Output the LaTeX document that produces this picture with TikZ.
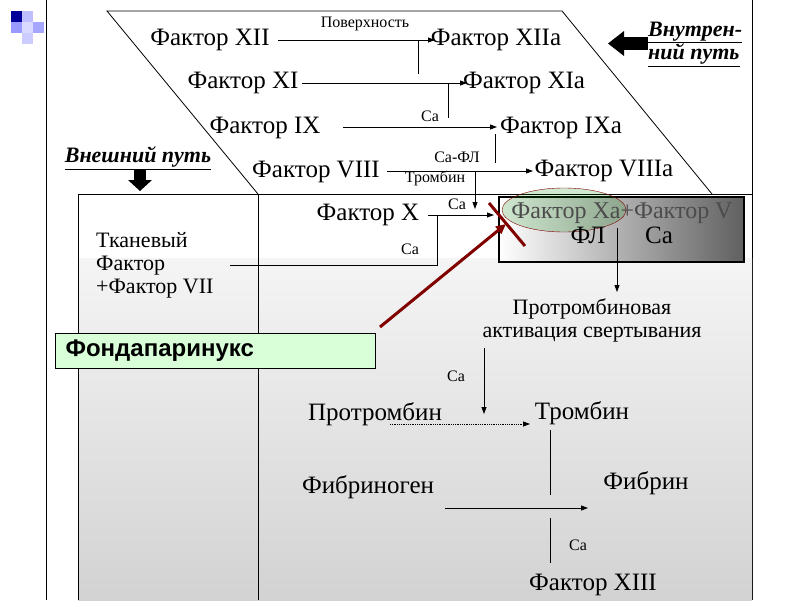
\documentclass[tikz,border=0pt]{standalone}
\usepackage{fontspec}
\setmainfont{Liberation Serif}
\newfontfamily\sansf{Liberation Sans}
\usetikzlibrary{arrows.meta,shapes.geometric}
\begin{document}
\begin{tikzpicture}[x=1pt,y=-1pt,
  big/.style={font=\fontsize{25}{22}\selectfont,inner sep=1pt},
  multi/.style={font=\fontsize{22}{23}\selectfont,inner sep=1pt},
  lab/.style={font=\fontsize{16}{17}\selectfont,inner sep=1pt},
  ln/.style={line width=0.8pt},
  arr/.style={ln,-{Triangle[length=7pt,width=5pt]}},
  hd/.style={font=\fontsize{22}{22}\selectfont\bfseries\itshape}]
\useasboundingbox (0,0) rectangle (800,600);
\fill[white] (0,0) rectangle (800,600);
% logo
\fill[blue!60!black] (11,11) rectangle (22,22);
\fill[blue!25] (22,11) rectangle (33,22);
\fill[blue!40] (11,22) rectangle (22,33);
\fill[blue!15] (22,22) rectangle (33,33);
\fill[blue!35] (33,22) rectangle (44,33);
\fill[blue!20] (22,33) rectangle (33,44);
\draw[line width=1pt] (46,0) -- (46,600);
\draw[line width=1pt] (752,0) -- (752,600);
% background gradient
\shade[top color=gray!8,bottom color=gray!35] (78,258) rectangle (752,600);
% frames
\draw[ln] (258,194) -- (107,11) -- (562,11) -- (712,194);
\draw[ln] (78,600) -- (78,194) -- (752,194);
\draw[ln] (258,194) -- (258,600);
% Extrinsic/intrinsic headers
\node[hd] (ext) at (138,158) {\underline{Внешний путь}};
\fill (134,170) rectangle (146,180);
\fill (128,180) -- (152,180) -- (140,191) -- cycle;
\node[hd,align=left,anchor=west,inner sep=0pt] (int) at (648,44) {\underline{Внутрен-}\\\underline{ний путь}};
\fill (624,37) rectangle (648,50);
\fill (624,31) -- (624,56) -- (608,43.5) -- cycle;
% factors
\node[big] (f12) at (210,40) {Фактор XII};
\node[big] (f12a) at (496,40) {Фактор XIIa};
\node[lab] (pov) at (365,24) {Поверхность};
\draw[arr] (278,40) -- (435,40);
\draw[ln] (418,40) -- (418,74);
\node[big] (f11) at (243,83) {Фактор XI};
\node[big] (f11a) at (524,83) {Фактор XIa};
\draw[arr] (302,83) -- (467,83);
\draw[ln] (448,83) -- (448,118);
\node[lab] (ca1) at (430,116) {Ca};
\node[big] (f9) at (265,128) {Фактор IX};
\node[big] (f9a) at (561,128) {Фактор IXa};
\draw[arr] (343,127) -- (497,127);
\draw[ln] (495,134) -- (495,163);
\node[lab] (caf) at (457,157) {Ca-ФЛ};
\node[big] (f8) at (316,172) {Фактор VIII};
\node[big] (f8a) at (604,171) {Фактор VIIIa};
\draw[arr] (387,171) -- (533,171);
\node[lab] (thr) at (435,178) {Тромбин};
\draw[arr] (475,172) -- (475,209);
\node[lab] (ca2) at (457,204) {Ca};
\node[big] (f10) at (368,215) {Фактор X};
\draw[arr] (428,215) -- (494,215);
\draw[ln] (437,215) -- (437,265) -- (230,265);
\node[lab] (ca3) at (410,249) {Ca};
\node[multi,align=left,anchor=west] (tf) at (95,265) {Тканевый\\Фактор\\+Фактор VII};
% Xa box
\shade[left color=white,right color=gray!75!black,draw=black,line width=1.5pt] (499,197) rectangle (744,262);
\node[ellipse,minimum width=124pt,minimum height=44pt,draw=red!50!black,fill=green!50!black,fill opacity=0.18] (ell) at (564,210) {};
\node[font=\fontsize{24}{22}\selectfont,inner sep=1pt,text=black!70] (xa) at (622,213) {Фактор Xa+Фактор V};
\node[big] (fl) at (588,235) {ФЛ};
\node[big] (ca4) at (659,235) {Ca};
\draw[arr] (617,228) -- (617,292);
\node[multi,align=center] (pta) at (592,320) {Протромбиновая\\активация свертывания};
% fondaparinux
\node[draw=black,fill=green!15,minimum width=320pt,minimum height=35pt,anchor=north west,inner sep=0pt] (fbox) at (55,333) {};
\node[anchor=west,font=\sansf\fontsize{24}{22}\selectfont\bfseries] (fond) at (62,350.5) {Фондапаринукс};
\draw[line width=3pt,red!50!black,-{Triangle[length=10pt,width=9pt]}] (380,327) -- (506,224);
\draw[line width=3pt,red!50!black] (489,203) -- (525,246);
% bottom
\node[lab] (ca5) at (456,376) {Ca};
\draw[arr] (484,348) -- (484,414);
\node[big] (pt) at (375,414) {Протромбин};
\node[big] (tr) at (582,413) {Тромбин};
\draw[arr,densely dotted] (390,424) -- (530,424);
\draw[ln] (550,430) -- (550,495);
\node[big] (fg) at (368,487) {Фибриноген};
\node[big] (fb) at (646,483) {Фибрин};
\draw[arr] (445,508) -- (588,508);
\draw[ln] (550,518) -- (550,563);
\node[lab] (ca6) at (578,545) {Ca};
\node[big] (f13) at (593,585) {Фактор XIII};
\end{tikzpicture}
\end{document}
